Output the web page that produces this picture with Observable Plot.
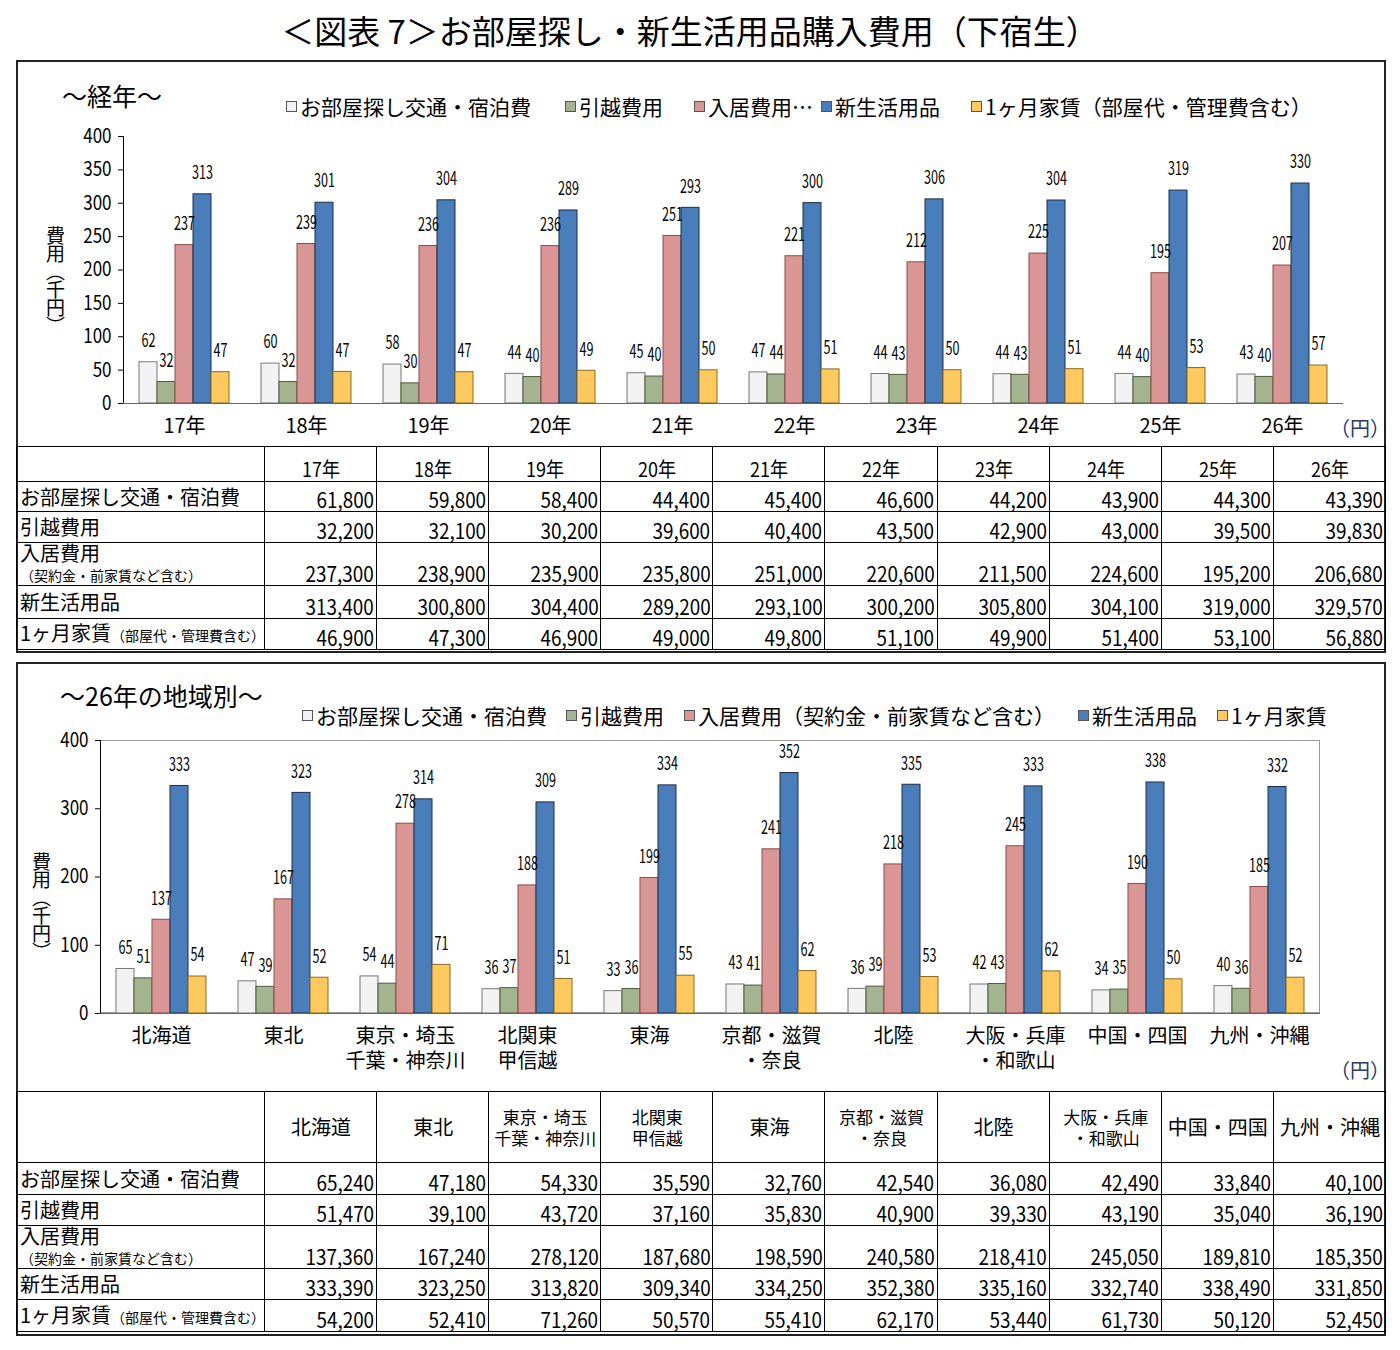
<!DOCTYPE html>
<html lang="ja">
<head>
<meta charset="utf-8">
<script src="https://cdn.jsdelivr.net/npm/d3@7"></script>
<script src="https://cdn.jsdelivr.net/npm/@observablehq/plot@0.6"></script>
<style>
  html, body { margin: 0; padding: 0; background: #fff; }
  body { position: relative; width: 1400px; height: 1350px; overflow: hidden;
         font-family: "Noto Sans CJK JP", sans-serif; color: #000; }
  .abs { position: absolute; }
  .box { position: absolute; border: 2px solid #222; box-sizing: border-box; }
  .title { left: 0; width: 1380px; top: 8px; text-align: center; font-size: 33px; line-height: 44px; }
  .sub { font-size: 25px; line-height: 30px; }
  .legend-item { position: absolute; font-size: 21px; line-height: 24px; white-space: nowrap; display: flex; align-items: center; }
  .sw { width: 9px; height: 9px; border: 1px solid #555; margin-right: 3px; display: inline-block; }
  .ylab { writing-mode: vertical-rl; font-size: 19px; line-height: 20px; letter-spacing: -1px; }
  .unit { font-size: 20px; color: #2b3a67; }
  table { position: absolute; left: 16px; width: 1370px; border-collapse: collapse; table-layout: fixed; }
  td { border: 1.5px solid #000; padding: 0 2px 0 3px; font-size: 21px; line-height: 24px;
       text-align: right; vertical-align: bottom; white-space: nowrap; }
  td.rl { text-align: left; vertical-align: middle; font-size: 20px; }
  td.rl small { font-size: 14px; }
  td.hd { text-align: center; font-size: 20px; }
  td.hd.two { font-size: 17px; line-height: 21px; }
  .n { display: inline-block; transform: scaleX(0.9); transform-origin: 100% 50%; }
  .c { display: inline-block; transform: scaleX(0.9); }
  .chart svg { overflow: visible; }
</style>
</head>
<body>
<script>
// ---- Series (yen) ----
const seriesNames1 = ["お部屋探し交通・宿泊費", "引越費用", "入居費用…", "新生活用品", "1ヶ月家賃（部屋代・管理費含む）"];
const seriesNames2 = ["お部屋探し交通・宿泊費", "引越費用", "入居費用（契約金・前家賃など含む）", "新生活用品", "1ヶ月家賃"];
const rowLabels = ["お部屋探し交通・宿泊費", "引越費用", "入居費用", "新生活用品", "1ヶ月家賃"];
const rowNotes = ["", "", "（契約金・前家賃など含む）", "", "（部屋代・管理費含む）"];

// Year-by-year
const years = ["17年", "18年", "19年", "20年", "21年", "22年", "23年", "24年", "25年", "26年"];
const roomSearch = [61800, 59800, 58400, 44400, 45400, 46600, 44200, 43900, 44300, 43390];
const moving     = [32200, 32100, 30200, 39600, 40400, 43500, 42900, 43000, 39500, 39830];
const moveIn     = [237300, 238900, 235900, 235800, 251000, 220600, 211500, 224600, 195200, 206680];
const newLife    = [313400, 300800, 304400, 289200, 293100, 300200, 305800, 304100, 319000, 329570];
const rent       = [46900, 47300, 46900, 49000, 49800, 51100, 49900, 51400, 53100, 56880];

// By region, year 26
const regions = ["北海道", "東北", "東京・埼玉\n千葉・神奈川", "北関東\n甲信越", "東海",
                 "京都・滋賀\n・奈良", "北陸", "大阪・兵庫\n・和歌山", "中国・四国", "九州・沖縄"];
const roomSearchR = [65240, 47180, 54330, 35590, 32760, 42540, 36080, 42490, 33840, 40100];
const movingR     = [51470, 39100, 43720, 37160, 35830, 40900, 39330, 43190, 35040, 36190];
const moveInR     = [137360, 167240, 278120, 187680, 198590, 240580, 218410, 245050, 189810, 185350];
const newLifeR    = [333390, 323250, 313820, 309340, 334250, 352380, 335160, 332740, 338490, 331850];
const rentR       = [54200, 52410, 71260, 50570, 55410, 62170, 53440, 61730, 50120, 52450];

const yTicks1 = [0, 50, 100, 150, 200, 250, 300, 350, 400];
const yTicks2 = [0, 100, 200, 300, 400];

// ---- Styling ----
const FONT = '"Noto Sans CJK JP", sans-serif';
const FILLS   = ["#f2f2f2", "#a4b490", "#d99694", "#4a7ebb", "#fec95f"];
const STROKES = ["#777777", "#4d5a3d", "#8c4a48", "#1f2d44", "#8a6a20"];
const fmt = d3.format(",");

function el(tag, cls, css, html) {
  const e = document.createElement(tag);
  if (cls) e.className = cls;
  if (css) Object.assign(e.style, css);
  if (html != null) e.innerHTML = html;
  document.body.appendChild(e);
  return e;
}

// ---- Frames, titles ----
el("div", "abs title", null, "＜図表 7＞お部屋探し・新生活用品購入費用（下宿生）");
el("div", "box", {left: "16px", top: "60px", width: "1370px", height: "593px"});
el("div", "box", {left: "16px", top: "662px", width: "1370px", height: "674px"});
el("div", "abs sub", {left: "62px", top: "80px"}, "～経年～");
el("div", "abs sub", {left: "60px", top: "680px"}, "～26年の地域別～");
el("div", "abs ylab", {left: "45px", top: "226px"}, "費用（千円）");
el("div", "abs ylab", {left: "31px", top: "852px"}, "費用（千円）");
el("div", "abs unit", {left: "1330px", top: "413px"}, "（円）");
el("div", "abs unit", {left: "1330px", top: "1055px"}, "（円）");

function legend(names, lefts, top) {
  names.forEach((n, j) => {
    const it = el("div", "legend-item", {left: lefts[j] + "px", top: top + "px"});
    it.innerHTML = `<span class="sw" style="background:${FILLS[j]}"></span>${n}`;
  });
}
legend(seriesNames1, [286, 565, 694, 821, 971], 94);
legend(seriesNames2, [302, 566, 684, 1078, 1217], 703);

// Narrow SVG texts horizontally about their own anchor point
function condense(svg, selector, s) {
  d3.select(svg).selectAll(selector).each(function () {
    const t = this.getAttribute("transform") || "";
    this.setAttribute("transform", `${t} scale(${s},1)`);
  });
}

// ---- Grouped bar charts ----
function groupedChart({cats, values, names, ticks, left, top, height, mt, mb, ml, mr}) {
  const data = cats.flatMap((c, i) => names.map((k, j) => ({cat: c, key: k, v: values[j][i] / 1000})));
  const plot = Plot.plot({
    width: 1370, height,
    marginTop: mt, marginBottom: mb, marginLeft: ml, marginRight: mr,
    style: {fontFamily: FONT, fontSize: "20px", background: "transparent", color: "#000"},
    fx: {domain: cats, padding: 0, label: null},
    x: {domain: names, paddingInner: 0, paddingOuter: 0.78, axis: null},
    y: {domain: [0, 400], ticks, tickSize: 5, tickPadding: 7, label: null, line: true},
    marks: [
      ...names.map((k, j) => Plot.barY(data.filter(d => d.key === k), {
        fx: "cat", x: "key", y: "v", fill: FILLS[j], stroke: STROKES[j], strokeWidth: 1
      })),
      Plot.ruleY([0], {stroke: "#666"}),
      Plot.text(data, {fx: "cat", x: "key", y: "v", text: d => String(Math.round(d.v)),
                       dy: -21, fontSize: 18, fill: "#000"}),
      Plot.axisFx({anchor: "bottom", tickSize: 0, tickPadding: 12, label: null,
                   fontSize: 20, lineHeight: 1.25})
    ]
  });
  condense(plot, 'g[aria-label="text"] text', 0.7);
  condense(plot, 'g[aria-label="y-axis tick label"] text', 0.85);
  const wrap = el("div", "abs chart", {left: left + "px", top: top + "px"});
  wrap.appendChild(plot);
}

groupedChart({cats: years, values: [roomSearch, moving, moveIn, newLife, rent], names: seriesNames1,
              ticks: yTicks1, left: 16, top: 120, height: 323, mt: 16, mb: 40, ml: 107, mr: 43});

// plot-area border of the regional chart
el("div", "abs", {left: "100px", top: "740px", width: "1220px", height: "273px",
                  border: "1px solid #999", boxSizing: "border-box"});
groupedChart({cats: regions, values: [roomSearchR, movingR, moveInR, newLifeR, rentR], names: seriesNames2,
              ticks: yTicks2, left: 16, top: 730, height: 343, mt: 10, mb: 60, ml: 84, mr: 66});

// ---- Data tables ----
function table(top, cats, headH, rowHs, values, headAlign, narrowHead) {
  const t = document.createElement("table");
  t.style.top = top + "px";
  let html = `<colgroup><col style="width:248px">${cats.map(() => "<col>").join("")}</colgroup>`;
  html += `<tr style="height:${headH}px"><td class="hd"></td>` +
          cats.map(c => `<td class="hd${c.includes("\n") ? " two" : ""}" style="vertical-align:${headAlign}">` +
                        `<span class="${narrowHead ? "c" : ""}">${c.replace("\n", "<br>")}</span></td>`).join("") + "</tr>";
  rowLabels.forEach((lab, j) => {
    let label = lab;
    if (rowNotes[j]) label += j === 2 ? `<br><small>${rowNotes[j]}</small>` : `<small>${rowNotes[j]}</small>`;
    html += `<tr style="height:${rowHs[j]}px"><td class="rl" style="${j === 2 ? 'vertical-align:top;line-height:20px' : ''}">${label}</td>` +
            values[j].map(v => `<td><span class="n">${fmt(v)}</span></td>`).join("") + "</tr>";
  });
  t.innerHTML = html;
  document.body.appendChild(t);
}
table(446, years, 35, [30, 31, 41, 33, 31], [roomSearch, moving, moveIn, newLife, rent], "bottom", true);
table(1091, regions, 71, [32, 31, 41, 31, 32], [roomSearchR, movingR, moveInR, newLifeR, rentR], "middle", false);
</script>
</body>
</html>
